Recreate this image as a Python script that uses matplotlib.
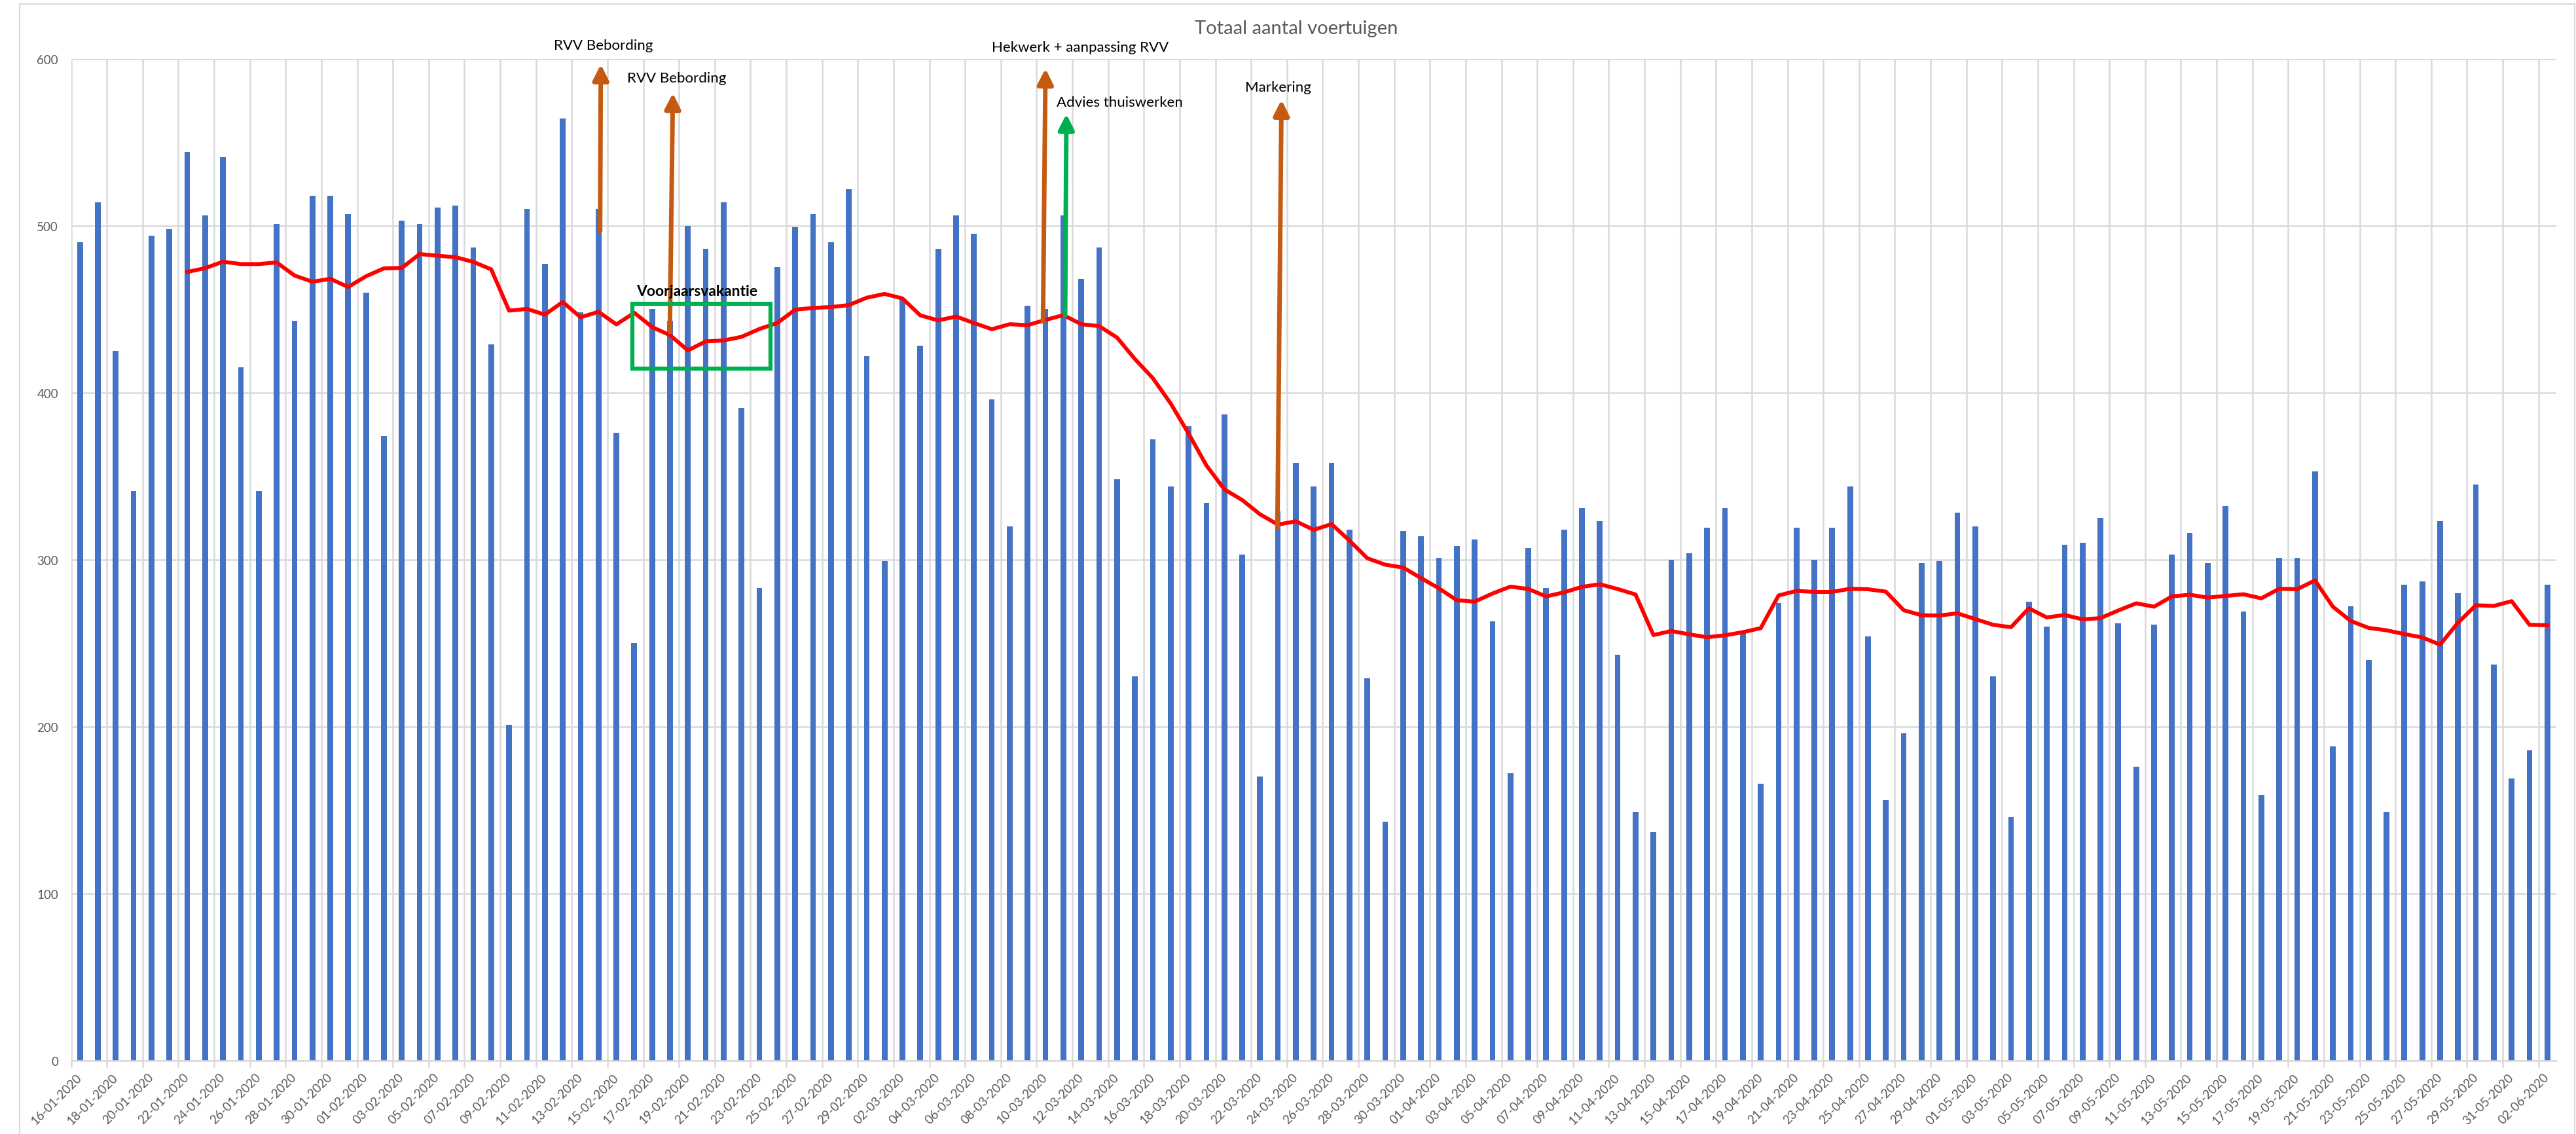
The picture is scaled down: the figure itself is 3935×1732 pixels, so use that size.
import matplotlib
matplotlib.use("Agg")
import matplotlib.pyplot as plt
import matplotlib.patches as patches
import numpy as np
import pandas as pd

plt.rcParams['font.family'] = ['Lato', 'DejaVu Sans']

# Dagelijkse tellingen: totaal aantal voertuigen, 16-01-2020 t/m 02-06-2020
dates = pd.date_range('2020-01-16', '2020-06-02', freq='D')
labels = [d.strftime('%d-%m-%Y') for d in dates]
voertuigen = [490, 514, 425, 341, 494, 498, 544, 506, 541, 415,
              341, 501, 443, 518, 518, 507, 460, 374, 503, 501,
              511, 512, 487, 429, 201, 510, 477, 564, 448, 510,
              376, 250, 450, 443, 500, 486, 514, 391, 283, 475,
              499, 507, 490, 522, 422, 299, 456, 428, 486, 506,
              495, 396, 320, 452, 450, 506, 468, 487, 348, 230,
              372, 344, 380, 334, 387, 303, 170, 329, 358, 344,
              358, 318, 229, 143, 317, 314, 301, 308, 312, 263,
              172, 307, 283, 318, 331, 323, 243, 149, 137, 300,
              304, 319, 331, 256, 166, 274, 319, 300, 319, 344,
              254, 156, 196, 298, 299, 328, 320, 230, 146, 275,
              260, 309, 310, 325, 262, 176, 261, 303, 316, 298,
              332, 269, 159, 301, 301, 353, 188, 272, 240, 149,
              285, 287, 323, 280, 345, 237, 169, 186, 285]

# 7-daags voortschrijdend gemiddelde (trendlijn)
gem7 = pd.Series(voertuigen).rolling(7).mean()

# annotaties: pijl van, pijl naar, kleur
pijlen = [
    ((29.09, 496.7), (29.13, 596.6), '#C55A11'),
    ((32.99, 436.4), (33.16, 579.4), '#C55A11'),
    ((53.86, 442.6), (54.00, 594.1), '#C55A11'),
    ((55.10, 446.2), (55.17, 566.9), '#00B050'),
    ((66.97, 319.1), (67.20, 575.4), '#C55A11'),
]
teksten = [
    ('RVV Bebording', 29.29, 608.0),
    ('RVV Bebording', 33.36, 588.5),
    ('Hekwerk + aanpassing RVV', 55.93, 606.9),
    ('Advies thuiswerken', 58.14, 574.0),
    ('Markering', 67.0, 583.0),
]

x = np.arange(len(voertuigen))

fig = plt.figure(figsize=(39.35, 17.33), dpi=100)
ax = fig.add_axes([108.5 / 3935, 1 - 1621 / 1733, (3905 - 108.5) / 3935, (1621 - 90.6) / 1733])

ax.bar(x, voertuigen, width=0.32, color='#4472C4', zorder=2)
ax.plot(x, gem7, color='#FF0000', lw=4.3, zorder=3)

ax.set_xlim(-0.5, len(x) - 0.5)
ax.set_ylim(0, 600)
ax.set_yticks(range(0, 601, 100))

# gridlijnen op grenzen, labels op elke tweede dag
ax.set_xticks(np.arange(0, len(x), 2) - 0.5)
ax.set_xticklabels([])
ax.set_xticks(np.arange(0, len(x), 2), minor=True)
ax.set_xticklabels(labels[::2], minor=True, rotation=45, ha='right',
                   rotation_mode='anchor', va='center')
ax.tick_params(axis='x', which='major', length=7, color='#d9d9d9', width=1.8)
ax.tick_params(axis='x', which='minor', length=0, pad=16, labelsize=13.5, labelcolor='#595959')
ax.tick_params(axis='y', length=0, pad=14, labelsize=13.5, labelcolor='#595959')
ax.grid(True, which='major', color='#d9d9d9', lw=1.8, zorder=0)
ax.set_axisbelow(True)
for s in ['top', 'right', 'left']:
    ax.spines[s].set_visible(False)
ax.spines['bottom'].set_color('#d9d9d9')
ax.spines['bottom'].set_linewidth(1.8)

for start, end, kleur in pijlen:
    ax.annotate('', xy=end, xytext=start, annotation_clip=False, zorder=4,
                arrowprops=dict(arrowstyle='-|>,head_length=1.4,head_width=0.7',
                                color=kleur, lw=5, shrinkA=0, shrinkB=0))
for tekst, tx, ty in teksten:
    ax.text(tx, ty, tekst, ha='center', va='center', fontsize=16, color='black',
            clip_on=False, zorder=5)

ax.text(34.52, 461, 'Voorjaarsvakantie', ha='center', va='center', fontsize=16.5,
        fontweight='bold', color='black', zorder=5)
ax.add_patch(patches.Rectangle((30.9, 414.5), 38.63 - 30.9, 453.3 - 414.5, fill=False,
                               edgecolor='#00B050', lw=4.5, zorder=4))

fig.text(1980 / 3935, 1 - 44 / 1733, 'Totaal aantal voertuigen', ha='center', va='center',
         fontsize=21, color='#595959')

fig.patches.append(patches.Rectangle((30 / 3935, -0.01), (3933 - 30) / 3935, 1.01 - 6.7 / 1733,
                                     transform=fig.transFigure, fill=False,
                                     edgecolor='#d9d9d9', lw=1.5))

fig.savefig('out.png', dpi=100)
